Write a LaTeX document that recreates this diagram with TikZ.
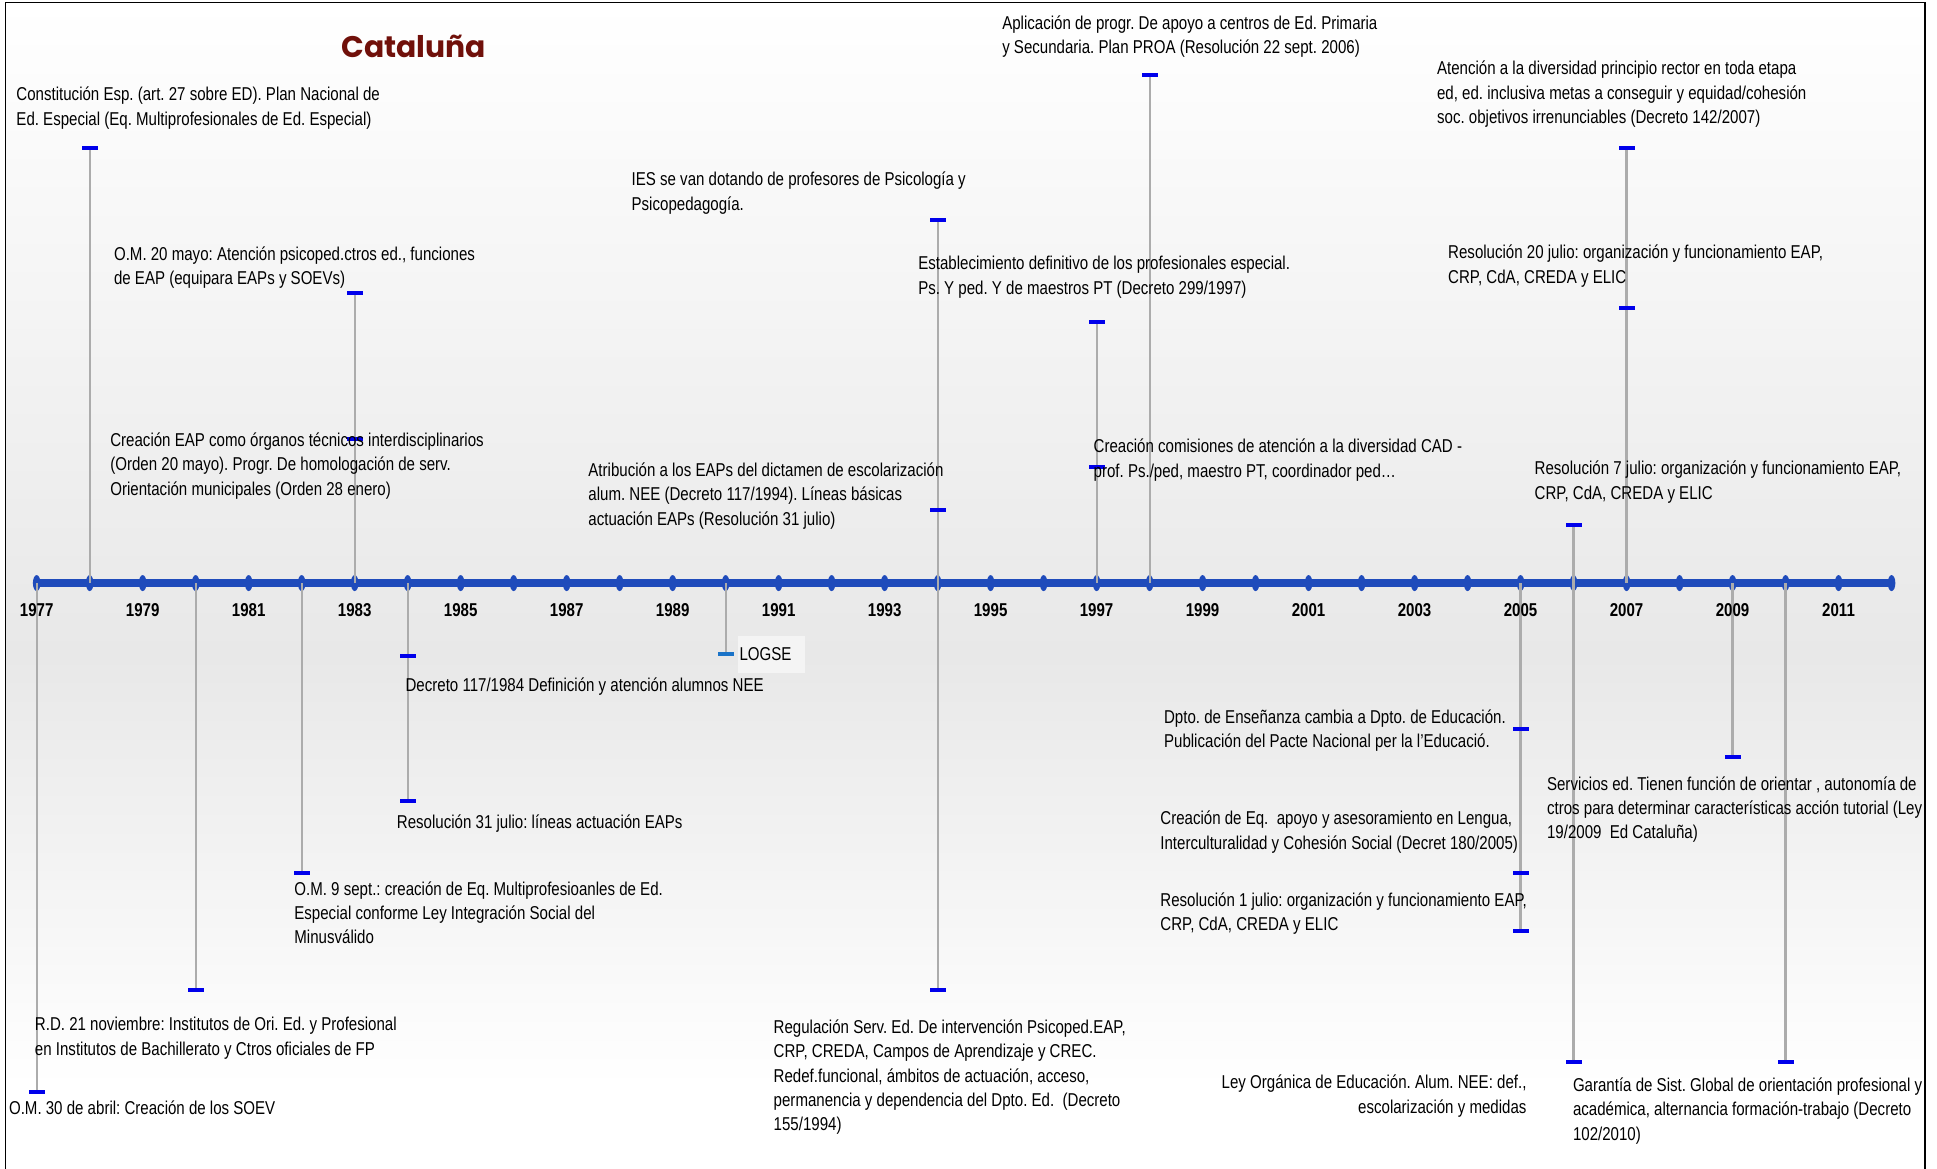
\documentclass[tikz,border=0pt]{standalone}
\usepackage{fontspec}
\setmainfont{Liberation Sans}[FakeStretch=0.81]
\newfontfamily\titulofont{Poppins}
\usepackage{tikz}
\definecolor{ejeazul}{RGB}{31,75,187}
\definecolor{marcaazul}{RGB}{0,0,235}
\definecolor{logseazul}{RGB}{26,115,200}
\definecolor{logsefondo}{RGB}{244,244,244}
\definecolor{tallogris}{RGB}{172,172,172}
\definecolor{titulorojo}{RGB}{112,16,10}
\definecolor{fondogris}{RGB}{232,232,232}
\pgfdeclarelayer{fondo}
\pgfdeclarelayer{tallos}
\pgfsetlayers{fondo,tallos,main}
\frenchspacing

\begin{document}
\begin{tikzpicture}[
  x=0.6177pt, y=-0.6177pt,
  font=\fontsize{9.3}{12.2}\selectfont,
  opis/.style={anchor=base west, align=left, inner sep=0},
  marca/.style={fill=marcaazul, minimum width=8pt, minimum height=2pt, inner sep=0},
  tallo/.style={draw=tallogris, line width=1.1pt},
  eje/.style={draw=ejeazul, line width=3.6pt},
  anio/.style={font=\fontsize{9.3}{11}\selectfont\bfseries, anchor=base, inner sep=0},
  declare function={yr(\t)=29.7+42.9*(\t-1977);},
]
\useasboundingbox (0,0) rectangle (1568,946);
% Fondo y marco
\begin{pgfonlayer}{fondo}
  \fill[top color=white, bottom color=fondogris] (4.5,2) rectangle (1558,530);
  \fill[top color=fondogris, bottom color=white] (4.5,530) rectangle (1558,880);
  \draw[line width=0.9pt] (4.5,946) -- (4.5,2) -- (1558,2) -- (1558,946);
  % Eje
  \foreach \a in {1977,...,2012}
    \coordinate (y\a) at ({yr(\a)},472);
  \draw[eje] (y1977) -- (y2012);
  \foreach \a in {1977,...,2012}
    \fill[ejeazul] (y\a) ellipse [x radius=1.9pt, y radius=4pt];
\end{pgfonlayer}
\foreach \a in {1977,1979,...,2011}
  \node[anio] (l\a) at ({yr(\a)},499) {\a};
% Titulo
\node[font=\titulofont\fontsize{14.9}{18}\selectfont\bfseries, text=titulorojo,
  anchor=base, inner sep=0] (titulo) at (335,46.4) {Cataluña};

% Sobre el eje (base = ultima linea)
\node[marca] (m1978) at ({yr(1978)},120) {};
\node[opis] (t1978) at (13,101.25) {Constitución Esp. (art. 27 sobre ED). Plan Nacional de\\Ed. Especial (Eq. Multiprofesionales de Ed. Especial)};
\node[marca] (m1983a) at ({yr(1983)},237) {};
\node[opis] (t1983a) at (92,230.25) {O.M. 20 mayo: Atención psicoped.ctros ed., funciones\\de EAP (equipara EAPs y SOEVs)};
\node[marca] (m1983b) at ({yr(1983)},355) {};
\node[opis] (t1983b) at (89,401) {Creación EAP como órganos técnicos interdisciplinarios\\(Orden 20 mayo). Progr. De homologación de serv.\\Orientación municipales (Orden 28 enero)};
\node[marca] (m1994a) at ({yr(1994)},178) {};
\node[opis] (t1994a) at (511,170.25) {IES se van dotando de profesores de Psicología y\\Psicopedagogía.};
\node[marca] (m1994b) at ({yr(1994)},413) {};
\node[opis] (t1994b) at (476,425) {Atribución a los EAPs del dictamen de escolarización\\alum. NEE (Decreto 117/1994). Líneas básicas\\actuación EAPs (Resolución 31 julio)};
\node[marca] (m1997a) at ({yr(1997)},261) {};
\node[opis] (t1997a) at (743,238.25) {Establecimiento definitivo de los profesionales especial.\\Ps. Y ped. Y de maestros PT (Decreto 299/1997)};
\node[marca] (m1997b) at ({yr(1997)},378) {};
\node[opis] (t1997b) at (885,386.25) {Creación comisiones de atención a la diversidad CAD -\\prof. Ps./ped, maestro PT, coordinador ped…};
\node[marca] (m1998) at ({yr(1998)},61) {};
\node[opis] (t1998) at (811,43.25) {Aplicación de progr. De apoyo a centros de Ed. Primaria\\y Secundaria. Plan PROA (Resolución 22 sept. 2006)};
\node[marca] (m2007a) at ({yr(2007)},120) {};
\node[opis] (t2007a) at (1163,100) {Atención a la diversidad principio rector en toda etapa\\ed, ed. inclusiva metas a conseguir y equidad/cohesión\\soc. objetivos irrenunciables (Decreto 142/2007)};
\node[marca] (m2007b) at ({yr(2007)},249) {};
\node[opis] (t2007b) at (1172,229.25) {Resolución 20 julio: organización y funcionamiento EAP,\\CRP, CdA, CREDA y ELIC};
\node[marca] (m2006a) at ({yr(2006)},425) {};
\node[opis] (t2006a) at (1242,404.25) {Resolución 7 julio: organización y funcionamiento EAP,\\CRP, CdA, CREDA y ELIC};

% Bajo el eje
\node[marca] (m1977) at ({yr(1977)},884) {};
\node[opis] (t1977) at (7,902.5) {O.M. 30 de abril: Creación de los SOEV};
\node[marca] (m1980) at ({yr(1980)},801) {};
\node[opis] (t1980) at (28,854.25) {R.D. 21 noviembre: Institutos de Ori. Ed. y Profesional\\en Institutos de Bachillerato y Ctros oficiales de FP};
\node[marca] (m1982) at ({yr(1982)},707) {};
\node[opis] (t1982) at (238,764) {O.M. 9 sept.: creación de Eq. Multiprofesioanles de Ed.\\Especial conforme Ley Integración Social del\\Minusválido};
\node[marca] (m1984a) at ({yr(1984)},531) {};
\node[opis] (t1984a) at (328,559.5) {Decreto 117/1984 Definición y atención alumnos NEE};
\node[marca] (m1984b) at ({yr(1984)},648) {};
\node[opis] (t1984b) at (321,670.5) {Resolución 31 julio: líneas actuación EAPs};
\node[marca, fill=logseazul] (m1990) at ({yr(1990)},529) {};
\node[fill=logsefondo, anchor=west, inner xsep=0.8pt, text width=32pt,
  minimum height=18.5pt] (t1990) at (597,529.5) {LOGSE};
\node[marca] (m1994c) at ({yr(1994)},801) {};
\node[opis] (t1994c) at (626,915.5) {Regulación Serv. Ed. De intervención Psicoped.EAP,\\CRP, CREDA, Campos de Aprendizaje y CREC.\\Redef.funcional, ámbitos de actuación, acceso,\\permanencia y dependencia del Dpto. Ed.\ \ (Decreto\\155/1994)};
\node[marca] (m2005a) at ({yr(2005)},590) {};
\node[opis] (t2005a) at (942,605.25) {Dpto. de Enseñanza cambia a Dpto. de Educación.\\Publicación del Pacte Nacional per la l’Educació.};
\node[marca] (m2005b) at ({yr(2005)},707) {};
\node[opis] (t2005b) at (939,687.25) {Creación de Eq.\ \ apoyo y asesoramiento en Lengua,\\Interculturalidad y Cohesión Social (Decret 180/2005)};
\node[marca] (m2005c) at ({yr(2005)},754) {};
\node[opis] (t2005c) at (939,753.25) {Resolución 1 julio: organización y funcionamiento EAP,\\CRP, CdA, CREDA y ELIC};
\node[marca] (m2006b) at ({yr(2006)},860) {};
\node[opis, anchor=base east, align=right] (t2006b) at (1236,901.25) {Ley Orgánica de Educación. Alum. NEE: def.,\\escolarización y medidas};
\node[marca] (m2009) at ({yr(2009)},613) {};
\node[opis] (t2009) at (1252,679) {Servicios ed. Tienen función de orientar , autonomía de\\ctros para determinar características acción tutorial (Ley\\19/2009\ \ Ed Cataluña)};
\node[marca] (m2010) at ({yr(2010)},860) {};
\node[opis] (t2010) at (1273,923) {Garantía de Sist. Global de orientación profesional y\\académica, alternancia formación-trabajo (Decreto\\102/2010)};

% Tallos
\begin{pgfonlayer}{tallos}
  \foreach \a/\m in {1977/m1977, 1978/m1978, 1980/m1980, 1982/m1982, 1983/m1983a,
      1984/m1984b, 1990/m1990, 1994/m1994a, 1994/m1994c, 1997/m1997a, 1998/m1998,
      2005/m2005c, 2006/m2006a, 2006/m2006b, 2007/m2007a, 2009/m2009, 2010/m2010}
    \draw[tallo] (y\a) -- (\m.center);
\end{pgfonlayer}
\end{tikzpicture}
\end{document}
